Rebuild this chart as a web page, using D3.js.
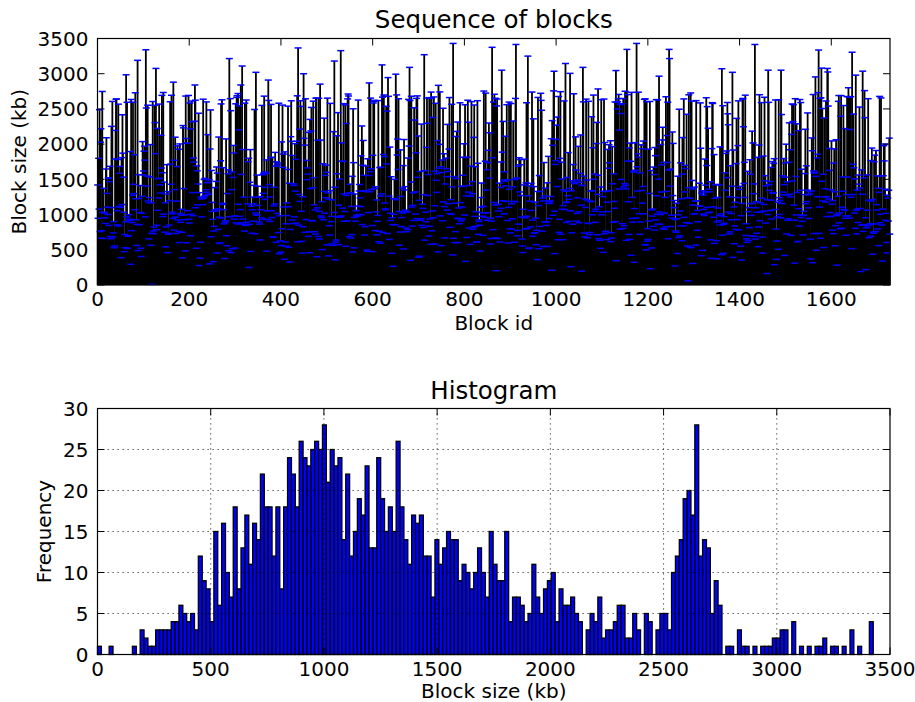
<!DOCTYPE html>
<html>
<head>
<meta charset="utf-8">
<script src="https://cdn.jsdelivr.net/npm/d3@7"></script>
<style>
  html, body { margin: 0; padding: 0; background: #fff; }
  svg { display: block; font-family: "DejaVu Sans", sans-serif; }
</style>
</head>
<body>
<div id="chart"></div>
<script>
'use strict';

// Histogram: 200 bins between histMin and histMax (kb), counts
const histMin = 0;
const histMax = 3426;
const histCounts = [
  1, 0, 0, 1, 0, 0, 0, 0, 0, 1,
  0, 3, 2, 1, 1, 3, 3, 3, 3, 4,
  4, 6, 5, 4, 5, 3, 12, 9, 8, 4,
  15, 6, 16, 10, 7, 18, 8, 13, 17, 11,
  16, 14, 22, 18, 18, 12, 18, 8, 18, 24,
  22, 18, 26, 24, 23, 25, 26, 25, 28, 21,
  25, 23, 24, 14, 22, 12, 15, 19, 17, 23,
  13, 13, 24, 19, 15, 18, 15, 26, 18, 14,
  11, 17, 16, 17, 12, 12, 7, 14, 11, 13,
  15, 14, 14, 9, 11, 10, 8, 10, 13, 10,
  7, 15, 11, 9, 9, 15, 4, 7, 7, 6,
  4, 5, 11, 7, 5, 8, 9, 10, 4, 8,
  6, 6, 7, 5, 4, 0, 3, 5, 4, 7,
  2, 3, 3, 4, 6, 6, 2, 2, 5, 3,
  0, 5, 4, 0, 3, 5, 5, 3, 10, 12,
  14, 19, 20, 17, 28, 12, 14, 13, 5, 9,
  6, 0, 1, 1, 0, 3, 1, 1, 0, 1,
  0, 1, 1, 1, 2, 2, 3, 3, 0, 4,
  0, 1, 0, 1, 0, 1, 1, 2, 0, 1,
  1, 0, 1, 0, 3, 0, 1, 0, 0, 4
];

// Tall blocks that stand out in the sequence plot (block id, size in kb)
const spikeIds = [87, 105, 127, 165, 212, 287, 312, 345, 372, 449, 516, 620, 633, 680,
  712, 775, 860, 881, 912, 938, 947, 995, 1020, 1030, 1058, 1154, 1175, 1224, 1246,
  1247, 1384, 1433, 1462, 1490, 1591, 1592, 1645, 1653, 1672];
const spikeSizes = [3190, 3340, 3075, 2880, 2840, 3215, 2840, 3020, 2910, 3000, 3180, 3125, 2945, 3090,
  3270, 3430, 3375, 3050, 3415, 3250, 2740, 3035, 3145, 3005, 3090, 3345, 3430, 2965, 3345,
  3215, 3020, 3415, 3050, 3050, 3075, 3025, 3305, 2980, 2760];

const idTicks = [0, 200, 400, 600, 800, 1000, 1200, 1400, 1600];
const sizeTicks = [0, 500, 1000, 1500, 2000, 2500, 3000, 3500];
const freqTicks = [0, 5, 10, 15, 20, 25, 30];

const width = 915;
const height = 702;

const svg = d3.select('#chart')
  .append('svg')
  .attr('width', width)
  .attr('height', height);

// Sequence of blocks. The order of single blocks can't be read from the
// picture, so the read histogram is spread along the ids and the tall
// spikes are put where they show up.
const binW = (histMax - histMin) / histCounts.length;
const binOf = v => Math.max(0, Math.min(histCounts.length - 1, Math.floor((v - histMin) / binW)));
const left = histCounts.slice();
spikeSizes.forEach(v => { const b = binOf(v); if (left[b] > 0) left[b]--; });
const pool = [];
left.forEach((c, i) => {
  for (let k = 0; k < c; k++) pool.push(histMin + (i + (k + 0.5) / c) * binW);
});
function mix(i) {
  let h = Math.imul(i + 1, 0x9e3779b1);
  h ^= h >>> 16; h = Math.imul(h, 0x85ebca6b);
  h ^= h >>> 13; h = Math.imul(h, 0xc2b2ae35);
  h ^= h >>> 16;
  return h >>> 0;
}
const order = d3.range(pool.length).sort((a, b) => mix(a) - mix(b));
const nBlocks = pool.length + spikeIds.length;
const spikeAt = new Map(spikeIds.map((id, j) => [id, spikeSizes[j]]));
const blocks = [];
let q = 0;
for (let id = 0; id < nBlocks; id++) {
  blocks.push({ id: id, size: spikeAt.has(id) ? spikeAt.get(id) : pool[order[q++]] });
}

const fontSize = 20;
const titleSize = 24.5;

function frame(g, x, y, xTicks, yTicks) {
  const [x0, x1] = x.range();
  const [y0, y1] = y.range();
  // inward ticks on all four sides
  const tick = 7;
  const tg = g.append('g').attr('stroke', '#000').attr('stroke-width', 1);
  xTicks.forEach(t => {
    const px = x(t);
    tg.append('line').attr('x1', px).attr('x2', px).attr('y1', y0).attr('y2', y0 - tick);
    tg.append('line').attr('x1', px).attr('x2', px).attr('y1', y1).attr('y2', y1 + tick);
  });
  yTicks.forEach(t => {
    const py = y(t);
    tg.append('line').attr('x1', x0).attr('x2', x0 + tick).attr('y1', py).attr('y2', py);
    tg.append('line').attr('x1', x1).attr('x2', x1 - tick).attr('y1', py).attr('y2', py);
  });
  g.append('rect')
    .attr('x', x0).attr('y', y1)
    .attr('width', x1 - x0).attr('height', y0 - y1)
    .attr('fill', 'none')
    .attr('stroke', '#000')
    .attr('stroke-width', 1.2);

  g.append('g').selectAll('text')
    .data(xTicks).enter()
    .append('text')
    .attr('x', d => x(d))
    .attr('y', y0 + 21)
    .attr('text-anchor', 'middle')
    .style('font-size', fontSize + 'px')
    .text(d => d);

  g.append('g').selectAll('text')
    .data(yTicks).enter()
    .append('text')
    .attr('x', x0 - 9)
    .attr('y', d => y(d))
    .attr('dy', '0.36em')
    .attr('text-anchor', 'end')
    .style('font-size', fontSize + 'px')
    .text(d => d);
}

// ---- top: sequence of blocks ----
const gTop = svg.append('g');
const xSeq = d3.scaleLinear().domain([0, nBlocks]).range([97.5, 890]);
const ySeq = d3.scaleLinear().domain([0, 3500]).range([285, 38.5]);

gTop.append('g').selectAll('line')
  .data(blocks).enter()
  .append('line')
  .attr('x1', d => xSeq(d.id + 0.4))
  .attr('x2', d => xSeq(d.id + 0.4))
  .attr('y1', ySeq(0))
  .attr('y2', d => ySeq(d.size))
  .attr('stroke', '#000')
  .attr('stroke-width', 1.8);

gTop.append('g').selectAll('line')
  .data(blocks).enter()
  .append('line')
  .attr('x1', d => xSeq(d.id + 0.4) - 3.5)
  .attr('x2', d => xSeq(d.id + 0.4) + 3.5)
  .attr('y1', d => ySeq(d.size))
  .attr('y2', d => ySeq(d.size))
  .attr('stroke', '#0000ff')
  .attr('stroke-width', 1.5);

frame(gTop, xSeq, ySeq, idTicks, sizeTicks);

gTop.append('text')
  .attr('x', 493.75).attr('y', 28)
  .attr('text-anchor', 'middle')
  .style('font-size', titleSize + 'px')
  .text('Sequence of blocks');
gTop.append('text')
  .attr('x', 493.75).attr('y', 330)
  .attr('text-anchor', 'middle')
  .style('font-size', fontSize + 'px')
  .text('Block id');
gTop.append('text')
  .attr('transform', 'translate(25.5,161.7) rotate(-90)')
  .attr('text-anchor', 'middle')
  .style('font-size', fontSize + 'px')
  .text('Block size (kb)');

// ---- bottom: histogram ----
const gBot = svg.append('g');
const xHist = d3.scaleLinear().domain([0, 3500]).range([97.5, 890]);
const yHist = d3.scaleLinear().domain([0, 30]).range([654.5, 408.5]);

gBot.append('g').selectAll('rect')
  .data(histCounts.map((c, i) => ({ i: i, c: c })).filter(d => d.c > 0))
  .enter()
  .append('rect')
  .attr('x', d => xHist(histMin + d.i * binW))
  .attr('width', xHist(binW) - xHist(0))
  .attr('y', d => yHist(d.c))
  .attr('height', d => yHist(0) - yHist(d.c))
  .attr('fill', '#0000ff')
  .attr('stroke', '#000')
  .attr('stroke-width', 1.3);

// dotted grid, drawn over the bars
const grid = gBot.append('g')
  .attr('stroke', '#000')
  .attr('stroke-width', 0.8)
  .attr('stroke-dasharray', '1.2,3.8');
sizeTicks.slice(1, -1).forEach(t => {
  grid.append('line')
    .attr('x1', xHist(t)).attr('x2', xHist(t))
    .attr('y1', yHist(0)).attr('y2', yHist(30));
});
freqTicks.slice(1, -1).forEach(t => {
  grid.append('line')
    .attr('x1', xHist(0)).attr('x2', xHist(3500))
    .attr('y1', yHist(t)).attr('y2', yHist(t));
});

frame(gBot, xHist, yHist, sizeTicks, freqTicks);

gBot.append('text')
  .attr('x', 493.75).attr('y', 398.5)
  .attr('text-anchor', 'middle')
  .style('font-size', titleSize + 'px')
  .text('Histogram');
gBot.append('text')
  .attr('x', 493.75).attr('y', 698)
  .attr('text-anchor', 'middle')
  .style('font-size', fontSize + 'px')
  .text('Block size (kb)');
gBot.append('text')
  .attr('transform', 'translate(50.5,531.5) rotate(-90)')
  .attr('text-anchor', 'middle')
  .style('font-size', fontSize + 'px')
  .text('Frequency');
</script>
</body>
</html>
